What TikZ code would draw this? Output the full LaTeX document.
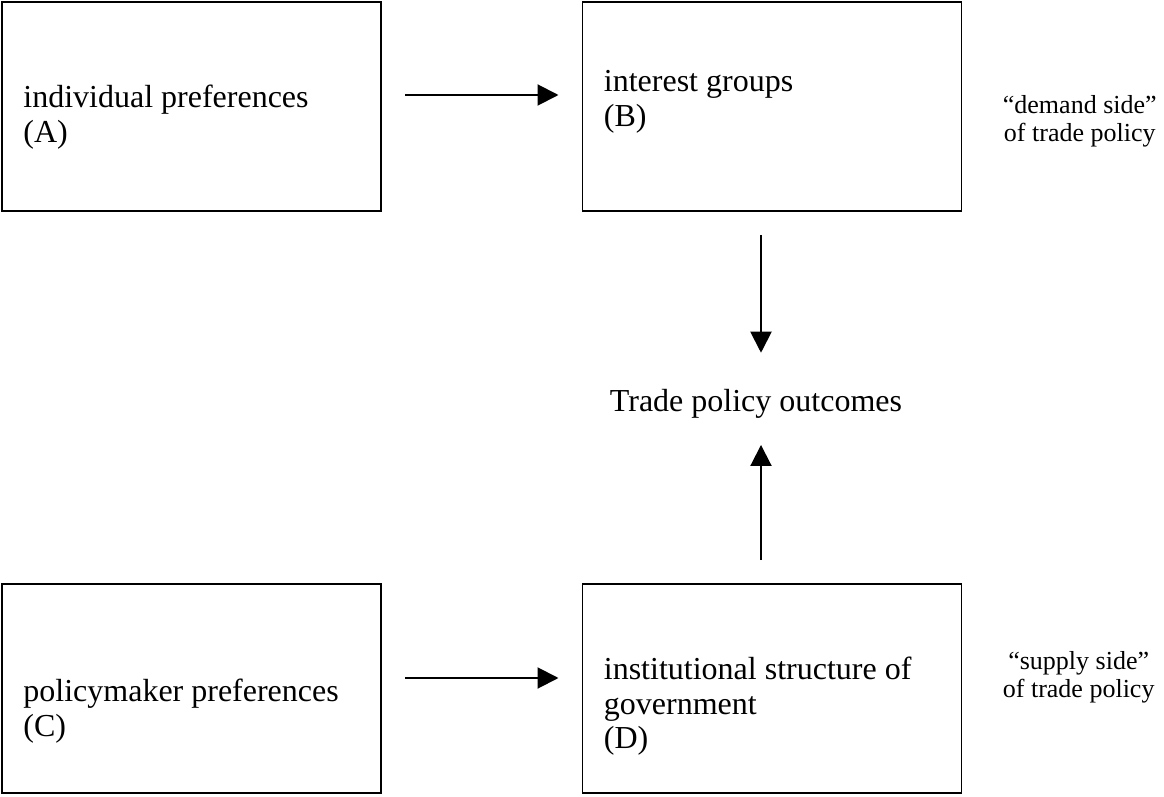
\documentclass[tikz,border=0pt]{standalone}
\usepackage{fontspec}
\setmainfont{Liberation Serif}
\usetikzlibrary{arrows.meta}

\begin{document}
\begin{tikzpicture}[x=0.5pt,y=-0.5pt]
  \tikzset{BoxStyle/.style = {
    shape         = rectangle,
    draw          = black,
    fill          = white,
    line width    = 0.8pt,
    inner sep     = 0pt,
    outer sep     = 0pt,
    minimum width = 189.5pt,
    minimum height= 104.5pt
    }
  }
  \tikzset{BoxTextStyle/.style = {
    anchor        = north west,
    align         = left,
    inner sep     = 0pt,
    text          = black,
    font          = \fontsize{16}{17.25}\selectfont
    }
  }
  \tikzset{NoteStyle/.style = {
    anchor        = north west,
    align         = center,
    inner sep     = 0pt,
    text          = black,
    font          = \fontsize{13}{14}\selectfont
    }
  }
  \tikzset{ArrowStyle/.style = {
    draw          = black,
    line width    = 1pt,
    -{Triangle[length=10.5pt,width=10.5pt]},
    shorten <=12pt,
    shorten >=12pt
    }
  }
  \useasboundingbox (0,0) rectangle (1164,797);

	\node[BoxStyle](A) at (191.5, 106.5) {};
	\node[BoxStyle](B) at (772, 106.5) {};
	\node[BoxStyle](C) at (191.5, 688.5) {};
	\node[BoxStyle](D) at (772, 688.5) {};
	\node[BoxTextStyle](txtA) at ([shift={(21,83)}]A.north west) {individual preferences\\(A)};
	\node[BoxTextStyle](txtB) at ([shift={(21,68)}]B.north west) {interest groups\\(B)};
	\node[BoxTextStyle](txtC) at ([shift={(21,95)}]C.north west) {policymaker preferences\\(C)};
	\node[BoxTextStyle](txtD) at ([shift={(21,73)}]D.north west) {institutional structure of\\government\\(D)};
	\node[anchor=base, font=\fontsize{16}{17.25}\selectfont](outc) at (756, 411) {Trade policy outcomes};
	\node[NoteStyle](demand) at ([shift={(41,93)}]B.north east) {``demand side''\\of trade policy};
	\node[NoteStyle](supply) at ([shift={(41,67)}]D.north east) {``supply side''\\of trade policy};
	\draw[ArrowStyle]([yshift=5.75pt]A.east) to ([yshift=5.75pt]B.west);
	\draw[ArrowStyle]([yshift=5.25pt]C.east) to ([yshift=5.25pt]D.west);
	\draw[ArrowStyle, shorten >=14.5pt]([xshift=-5.5pt]B.south) to ([xshift=-5.5pt]B.south |- outc.north);
	\draw[ArrowStyle, shorten >=10pt]([xshift=-5.5pt]D.north) to ([xshift=-5.5pt]D.north |- outc.south);

  \end{tikzpicture}
\end{document}
